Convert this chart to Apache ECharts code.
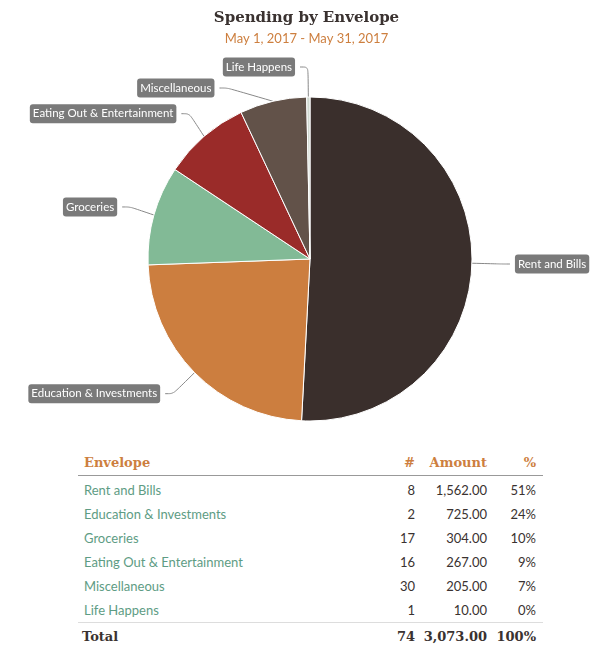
<!DOCTYPE html>
<html><head><meta charset="utf-8">
<script src="https://cdn.jsdelivr.net/npm/echarts@6/dist/echarts.min.js"></script>
<style>
html,body{margin:0;padding:0;background:#fff;width:613px;height:656px;overflow:hidden;}
#chart{position:absolute;left:0;top:0;width:613px;height:440px;}
#tbl{position:absolute;left:78px;top:450px;width:465px;border-collapse:collapse;font-family:Lato,"Open Sans",sans-serif;font-size:13px;}
#tbl td,#tbl th{padding:0;height:24px;}
#tbl td:first-child,#tbl th:first-child{padding-left:6px;}
#tbl td:last-child,#tbl th:last-child{padding-right:7px;}
#tbl th{font-family:"DejaVu Serif",serif;font-weight:bold;color:#cd7f3f;font-size:13px;height:25px;border-bottom:1px solid #999;}
#tbl td.n{color:#5e9c84;text-align:left;}
#tbl td.r,#tbl th.r{text-align:right;color:#3a3230;}
#tbl th.r{color:#cd7f3f;}
#tbl tr.first td{padding-top:2px;}
#tbl tr.tot td{font-family:"DejaVu Serif",serif;font-weight:bold;color:#3a3230;border-top:1px solid #ddd;height:27px;font-size:13px;}
#tbl tr.tot td:first-child{padding-left:4px;}
</style></head>
<body>
<div id="chart"></div>
<table id="tbl"></table>
<script>
var categories = ["Rent and Bills","Education & Investments","Groceries","Eating Out & Entertainment","Miscellaneous","Life Happens"];
var amounts = [1562, 725, 304, 267, 205, 10];
var counts = [8, 2, 17, 16, 30, 1];
var colors = ["#3a2f2c","#cc7e3f","#82ba96","#9a2b29","#625249","#cfd8cf"];
var titleText = "Spending by Envelope";
var subtitleText = "May 1, 2017 - May 31, 2017";

var chart = echarts.init(document.getElementById('chart'));
chart.setOption({
  animation:false,
  title:{text:titleText, subtext:subtitleText, left:'center', top:6, itemGap:6,
    textStyle:{fontFamily:'DejaVu Serif', fontWeight:'bold', fontSize:15, color:'#3a3230'},
    subtextStyle:{fontFamily:'Lato', fontSize:13, color:'#cd7f3f'}},
  series:[{
    type:'pie', center:[310,259], radius:[0,162], startAngle:90, clockwise:true,
    data: categories.map(function(c,i){return {name:c, value:amounts[i], itemStyle:{color:colors[i]}};}),
    itemStyle:{borderColor:'#fff', borderWidth:1},
    label:{show:true, position:'outside', formatter:'{b}', color:'#fff', backgroundColor:'#7a7a7a',
      borderRadius:3, padding:[4,3,3,3], fontFamily:'Lato', fontSize:11.5},
    labelLine:{show:true, length:30, length2:8, smooth:0.3, lineStyle:{color:'#888', width:1}},
    emphasis:{disabled:true}
  }]
});

var total = amounts.reduce(function(a,b){return a+b;},0);
var totalCount = counts.reduce(function(a,b){return a+b;},0);
function fmt(v){return v.toLocaleString('en-US',{minimumFractionDigits:2,maximumFractionDigits:2});}
var html = '<tr><th style="text-align:left">Envelope</th><th class="r" style="width:50px">#</th><th class="r" style="width:72px">Amount</th><th class="r" style="width:49px">%</th></tr>';
categories.forEach(function(c,i){
  html += '<tr'+(i===0?' class="first"':'')+'><td class="n">'+c+'</td><td class="r">'+counts[i]+'</td><td class="r">'+fmt(amounts[i])+'</td><td class="r">'+Math.round(amounts[i]/total*100)+'%</td></tr>';
});
html += '<tr class="tot"><td>Total</td><td class="r">'+totalCount+'</td><td class="r">'+fmt(total)+'</td><td class="r">100%</td></tr>';
document.getElementById('tbl').innerHTML = html;
</script>
</body></html>
